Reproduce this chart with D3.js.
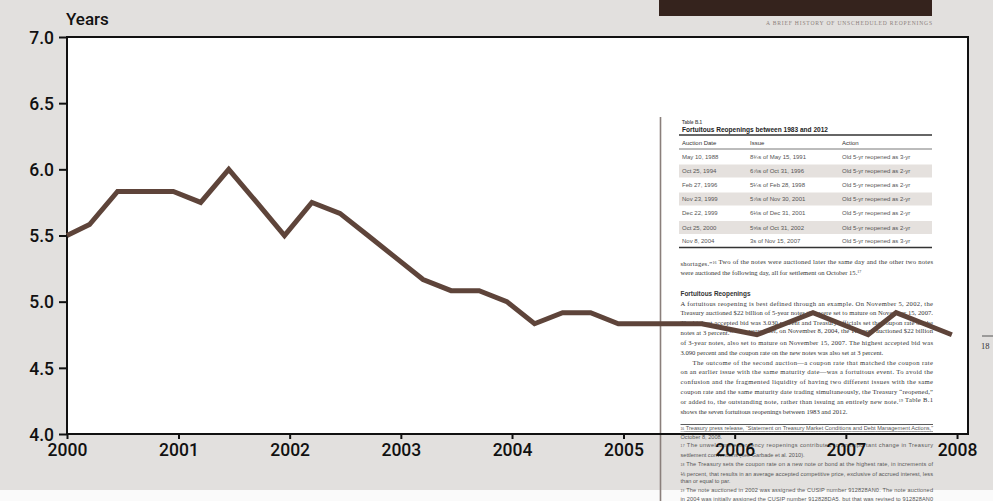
<!DOCTYPE html>
<html>
<head>
<meta charset="utf-8">
<script src="https://cdn.jsdelivr.net/npm/d3@7"></script>
<style>
  html, body { margin: 0; padding: 0; background: #ffffff; }
  svg { display: block; }
</style>
</head>
<body>
<svg id="chart" width="993" height="501"></svg>
<script>
// ---------------- data ----------------
const dates = [
  "2000-01-01", "2000-03-15", "2000-06-15", "2000-09-15", "2000-12-15",
  "2001-03-15", "2001-06-15", "2001-09-15", "2001-12-15",
  "2002-03-15", "2002-06-15", "2002-09-15", "2002-12-15",
  "2003-03-15", "2003-06-15", "2003-09-15", "2003-12-15",
  "2004-03-15", "2004-06-15", "2004-09-15", "2004-12-15",
  "2005-03-15", "2005-06-15", "2005-09-15", "2005-12-15",
  "2006-03-15", "2006-06-15", "2006-09-15", "2006-12-15",
  "2007-03-15", "2007-06-15", "2007-09-15", "2007-12-15"
];
const years = [
  5.5, 5.583, 5.833, 5.833, 5.833,
  5.75, 6.0, 5.75, 5.5,
  5.75, 5.667, 5.5, 5.333,
  5.167, 5.083, 5.083, 5.0,
  4.833, 4.917, 4.917, 4.833,
  4.833, 4.833, 4.833, 4.792,
  4.75, 4.833, 4.917, 4.833,
  4.75, 4.917, 4.833, 4.75
];
const yTicks = [4.0, 4.5, 5.0, 5.5, 6.0, 6.5, 7.0];
const xTickYears = [2000, 2001, 2002, 2003, 2004, 2005, 2006, 2007, 2008];
const yAxisTitle = "Years";

// overlaid book page (scanned-page content); ^n marks a superscript note number
const runningHead = "A BRIEF HISTORY OF UNSCHEDULED REOPENINGS";
const tableLabel = "Table B.1";
const tableTitle = "Fortuitous Reopenings between 1983 and 2012";
const tableHeader = ["Auction Date", "Issue", "Action"];
const tableAuction = ["May 10, 1988", "Oct 25, 1994", "Feb 27, 1996", "Nov 23, 1999", "Dec 22, 1999", "Oct 25, 2000", "Nov 8, 2004"];
const tableIssue = ["8¾s of May 15, 1991", "6⅞s of Oct 31, 1996", "5¼s of Feb 28, 1998", "5⅞s of Nov 30, 2001", "6⅛s of Dec 31, 2001", "5⅝s of Oct 31, 2002", "3s of Nov 15, 2007"];
const tableAction = ["Old 5-yr reopened as 3-yr", "Old 5-yr reopened as 2-yr", "Old 5-yr reopened as 2-yr", "Old 5-yr reopened as 2-yr", "Old 5-yr reopened as 2-yr", "Old 5-yr reopened as 2-yr", "Old 5-yr reopened as 3-yr"];
const introLines = [
  "shortages.\u201D^16  Two of the notes were auctioned later the same day and the other two notes",
  "were auctioned the following day, all for settlement on October 15.^17"
];
const sectionHeading = "Fortuitous Reopenings";
const bodyLines = [
  "A fortuitous reopening is best defined through an example. On November 5, 2002, the",
  "Treasury auctioned $22 billion of 5-year notes that were set to mature on November 15, 2007.",
  "The highest accepted bid was 3.030 percent and Treasury officials set the coupon rate on the",
  "notes at 3 percent.^18  Two years later, on November 8, 2004, the Treasury auctioned $22 billion",
  "of 3-year notes, also set to mature on November 15, 2007. The highest accepted bid was",
  "3.090 percent and the coupon rate on the new notes was also set at 3 percent.",
  "The outcome of the second auction\u2014a coupon rate that matched the coupon rate",
  "on an earlier issue with the same maturity date\u2014was a fortuitous event. To avoid the",
  "confusion and the fragmented liquidity of having two different issues with the same",
  "coupon rate and the same maturity date trading simultaneously, the Treasury \u201Creopened,\u201D",
  "or added to, the outstanding note, rather than issuing an entirely new note.^19  Table B.1",
  "shows the seven fortuitous reopenings between 1983 and 2012."
];
const footnoteLines = [
  "^16 Treasury press release, \u201CStatement on Treasury Market Conditions and Debt Management Actions,\u201D",
  "October 8, 2008.",
  "^17 The unwelcome emergency reopenings contributed to an important change in Treasury",
  "settlement conventions (see Garbade et al. 2010).",
  "^18 The Treasury sets the coupon rate on a new note or bond at the highest rate, in increments of",
  "\u215B percent, that results in an average accepted competitive price, exclusive of accrued interest, less",
  "than or equal to par.",
  "^19 The note auctioned in 2002 was assigned the CUSIP number 912828AN0. The note auctioned",
  "in 2004 was initially assigned the CUSIP number 912828DA5, but that was revised to 912828AN0"
];
const pageNumber = "18";

// ---------------- drawing ----------------
const svg = d3.select("#chart");
const W = 993, H = 501;
const margin = { left: 67, right: 25, top: 37, bottom: 67 };
const parse = d3.timeParse("%Y-%m-%d");
const data = dates.map((d, i) => ({ date: parse(d), value: years[i] }));

const x = d3.scaleTime()
  .domain([parse("2000-01-01"), parse("2008-02-06")])
  .range([margin.left, W - margin.right]);
const y = d3.scaleLinear()
  .domain([4, 7])
  .range([H - margin.bottom, margin.top]);

// background
svg.append("rect").attr("x", 0).attr("y", 0).attr("width", W).attr("height", 490).attr("fill", "#e2e0de");
svg.append("rect").attr("x", 0).attr("y", 490).attr("width", W).attr("height", H - 490).attr("fill", "#fafafa");
svg.append("rect")
  .attr("x", margin.left).attr("y", margin.top)
  .attr("width", W - margin.right - margin.left)
  .attr("height", H - margin.bottom - margin.top)
  .attr("fill", "#ffffff");

// ---------- overlaid page ----------
const page = svg.append("g").attr("class", "page");
const serif = "'Liberation Serif', 'DejaVu Serif', serif";
const sans = "'Liberation Sans Narrow', 'Liberation Sans', Arial, sans-serif";

// write a string with ^n superscript markers into a text element
function richText(el, str, size) {
  const parts = str.split(/\^(\d+)/);
  parts.forEach((p, k) => {
    if (p === "") return;
    if (k % 2 === 1) {
      el.append("tspan").attr("font-size", size * 0.6).attr("dy", -size * 0.35).text(p);
      el.append("tspan").attr("dy", size * 0.35).text("");
    } else {
      el.append("tspan").text(p);
    }
  });
  return el;
}

page.append("rect").attr("x", 659).attr("y", 0).attr("width", 273).attr("height", 16).attr("fill", "#35231d");
page.append("text").attr("x", 932).attr("y", 25).attr("text-anchor", "end")
  .attr("font-family", serif).attr("font-size", 5.6).attr("fill", "#8d807c")
  .attr("textLength", 166).attr("lengthAdjust", "spacing")
  .text(runningHead);

page.append("line").attr("x1", 660.5).attr("x2", 660.5).attr("y1", 117).attr("y2", H)
  .attr("stroke", "#8a7f7b").attr("stroke-width", 1.6);

const tL = 679, tR = 932;
page.append("text").attr("x", 682).attr("y", 124)
  .attr("font-family", sans).attr("font-size", 4.6).attr("font-weight", "bold").attr("fill", "#555")
  .text(tableLabel);
page.append("text").attr("x", 682).attr("y", 131.5)
  .attr("font-family", sans).attr("font-size", 8).attr("font-weight", "bold").attr("fill", "#222")
  .attr("textLength", 146).attr("lengthAdjust", "spacingAndGlyphs")
  .text(tableTitle);
page.append("line").attr("x1", tL).attr("x2", tR).attr("y1", 135).attr("y2", 135).attr("stroke", "#333").attr("stroke-width", 1.3);

const colX = [682, 750, 842];
tableHeader.forEach((h, i) => {
  page.append("text").attr("x", colX[i]).attr("y", 145)
    .attr("font-family", sans).attr("font-size", 6).attr("fill", "#333").text(h);
});
page.append("line").attr("x1", tL).attr("x2", tR).attr("y1", 149).attr("y2", 149).attr("stroke", "#555").attr("stroke-width", 0.8);

const rowCenters = [157, 171, 185, 199, 213, 227.5, 241];
rowCenters.forEach((c, i) => {
  if (i % 2 === 1) {
    page.append("rect").attr("x", tL).attr("y", c - 6.5).attr("width", tR - tL).attr("height", 13).attr("fill", "#e5e1de");
  }
  [tableAuction[i], tableIssue[i], tableAction[i]].forEach((t, j) => {
    page.append("text").attr("x", colX[j]).attr("y", c + 2)
      .attr("font-family", sans).attr("font-size", 6).attr("fill", "#555").text(t);
  });
});
page.append("line").attr("x1", tL).attr("x2", tR).attr("y1", 247.5).attr("y2", 247.5).attr("stroke", "#333").attr("stroke-width", 1.5);

const bL = 680.5, bW = 252.5;
const introY = [266, 275];
introLines.forEach((t, i) => {
  const el = page.append("text").attr("x", bL).attr("y", introY[i])
    .attr("font-family", serif).attr("font-size", 6.6).attr("fill", "#333");
  richText(el, t, 6.6);
  if (i === 0) el.attr("textLength", bW).attr("lengthAdjust", "spacing");
});
page.append("text").attr("x", bL).attr("y", 296)
  .attr("font-family", sans).attr("font-size", 7.2).attr("font-weight", "bold").attr("fill", "#333")
  .attr("textLength", 70).attr("lengthAdjust", "spacingAndGlyphs")
  .text(sectionHeading);
const lastOfPara = [5, 11];
bodyLines.forEach((t, i) => {
  const indent = i === 6 ? 12 : 0;
  const el = page.append("text").attr("x", bL + indent).attr("y", 305.5 + i * 9.85)
    .attr("font-family", serif).attr("font-size", 6.6).attr("fill", "#333");
  richText(el, t, 6.6);
  if (!lastOfPara.includes(i)) el.attr("textLength", bW - indent).attr("lengthAdjust", "spacing");
});

page.append("line").attr("x1", bL).attr("x2", bL + bW).attr("y1", 424.5).attr("y2", 424.5).attr("stroke", "#333").attr("stroke-width", 0.8);
const fnY = [432, 439, 449, 456.5, 468, 475.5, 483, 494, 501];
const fnJust = [true, false, true, false, true, true, false, true, true];
footnoteLines.forEach((t, i) => {
  const el = page.append("text").attr("x", bL).attr("y", fnY[i])
    .attr("font-family", sans).attr("font-size", 5.6).attr("fill", "#555");
  richText(el, t, 5.6);
  if (fnJust[i]) el.attr("textLength", bW).attr("lengthAdjust", "spacing");
  if (i === 0) el.attr("text-decoration", "underline");
});

page.append("line").attr("x1", 982).attr("x2", 993).attr("y1", 336).attr("y2", 336).attr("stroke", "#333").attr("stroke-width", 0.8);
page.append("text").attr("x", 981).attr("y", 349).attr("font-family", serif).attr("font-size", 8.5).attr("fill", "#333").text(pageNumber);

// ---------- chart frame, axes ----------
const labelFont = "Roboto, 'Liberation Sans', Arial, sans-serif";

svg.append("rect")
  .attr("x", margin.left).attr("y", margin.top)
  .attr("width", W - margin.right - margin.left)
  .attr("height", H - margin.bottom - margin.top)
  .attr("fill", "none").attr("stroke", "#111").attr("stroke-width", 2);

const yAxis = svg.append("g")
  .attr("transform", `translate(${margin.left},0)`)
  .call(d3.axisLeft(y).tickValues(yTicks).tickFormat(d3.format(".1f")).tickSize(8).tickPadding(5));
yAxis.select(".domain").remove();
yAxis.selectAll(".tick line").attr("stroke", "#111").attr("stroke-width", 2);
yAxis.selectAll(".tick text")
  .attr("font-family", labelFont).attr("font-size", 17.5).attr("font-weight", 500).attr("fill", "#111")
  .attr("dy", "0.36em");

const xAxis = svg.append("g")
  .attr("transform", `translate(0,${H - margin.bottom})`)
  .call(d3.axisBottom(x)
    .tickValues(xTickYears.map(yr => new Date(yr, 0, 1)))
    .tickFormat(d3.timeFormat("%Y")).tickSize(5).tickPadding(5));
xAxis.select(".domain").remove();
xAxis.selectAll(".tick line").attr("stroke", "#111").attr("stroke-width", 2);
xAxis.selectAll(".tick text")
  .attr("font-family", labelFont).attr("font-size", 17.5).attr("font-weight", 500).attr("fill", "#111");

svg.append("text").attr("x", 66).attr("y", 25)
  .attr("font-family", labelFont).attr("font-size", 17).attr("font-weight", 500).attr("fill", "#111")
  .text(yAxisTitle);

// ---------- line ----------
const line = d3.line().x(d => x(d.date)).y(d => y(d.value));
svg.append("path").datum(data)
  .attr("d", line)
  .attr("fill", "none")
  .attr("stroke", "#5e443a")
  .attr("stroke-width", 5)
  .attr("stroke-linejoin", "miter")
  .attr("stroke-linecap", "butt");
</script>
</body>
</html>
